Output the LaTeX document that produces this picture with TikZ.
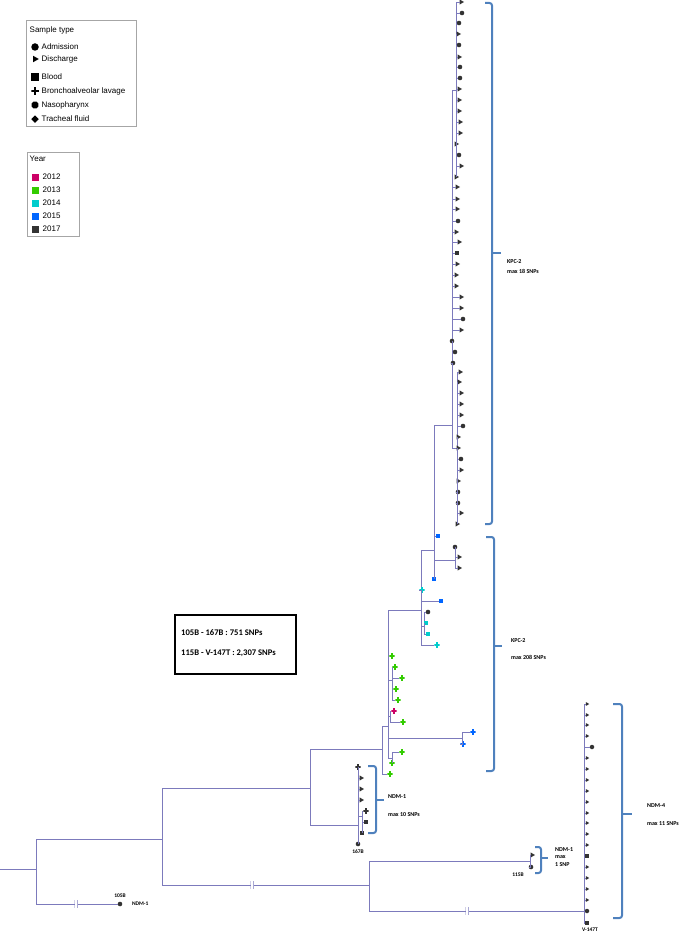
\documentclass[tikz,border=0pt]{standalone}
\usepackage{fontspec}
\setmainfont{Liberation Sans}
\newfontfamily\calibfont{Carlito}
\usetikzlibrary{
  shapes.geometric,
  positioning,
  calc
}
\definecolor{TreeBlue}{HTML}{7C7ABC}
\definecolor{BraceBlue}{HTML}{4F81BD}
\definecolor{MarkGrey}{HTML}{333333}
\definecolor{LegGrey}{HTML}{A6A6A6}
\definecolor{YrMagenta}{HTML}{CC0066}
\definecolor{YrGreen}{HTML}{33CC00}
\definecolor{YrCyan}{HTML}{00CCCC}
\definecolor{YrBlue}{HTML}{0066FF}
\definecolor{YrDark}{HTML}{333333}
\tikzset{
  % Tree branch
  branch/.style={draw=TreeBlue, line width=0.7pt},
  % Marker colour (set before the marker style)
  mkcol/.store in=\mkcolour, mkcol=MarkGrey,
  % Leaf markers (one per sample type)
  mk/.style={inner sep=0pt, outer sep=0pt, draw=none, fill=\mkcolour},
  dotm/.style={mk, circle, minimum size=4.6pt},
  trim/.style={mk, regular polygon, regular polygon sides=3, shape border rotate=-90, minimum size=6pt},
  sqm/.style={mk, rectangle, minimum size=4.6pt},
  plusm/.style={
    rectangle, inner sep=0pt, outer sep=0pt, draw=none, minimum size=5.2pt,
    path picture={\draw[line width=1.6pt, draw=\mkcolour]
      (path picture bounding box.north) -- (path picture bounding box.south)
      (path picture bounding box.west) -- (path picture bounding box.east);}
  },
  nasm/.style={mk, regular polygon, regular polygon sides=8, minimum size=6pt},
  diam/.style={mk, diamond, minimum size=6.5pt},
  % Broken branch mark
  brk/.style={
    rectangle, fill=white, inner sep=0pt, minimum width=3pt, minimum height=8pt,
    path picture={\draw[TreeBlue, line width=1.2pt]
      (path picture bounding box.north west) -- (path picture bounding box.south west)
      (path picture bounding box.north east) -- (path picture bounding box.south east);}
  },
  % Legend
  legbox/.style={draw=LegGrey, line width=0.6pt, fill=white, inner sep=0pt},
  legtxt/.style={font=\fontsize{8}{9}\selectfont, inner sep=0.5pt, anchor=west},
  % Tip and clade labels
  tiplbl/.style={font=\calibfont\bfseries\fontsize{5.5}{6.5}\selectfont, inner sep=0.5pt},
  cladelbl/.style={font=\calibfont\bfseries\fontsize{6}{7.5}\selectfont, inner sep=0pt, anchor=west, align=left},
  % Clade bracket
  brace/.style={draw=BraceBlue, line width=2pt, rounded corners=2.5pt},
  % SNP distance box
  snpbox/.style={draw=black, line width=2.2pt, fill=white, inner sep=0pt},
  snptxt/.style={font=\calibfont\bfseries\fontsize{8.6}{10}\selectfont, inner sep=0pt, anchor=west}
}

\begin{document}
\begin{tikzpicture}[x=1pt, y=-1pt]
  \useasboundingbox (0,0) rectangle (685,934);

  % Sample type legend
  \node[legbox, anchor=north west, minimum width=110pt, minimum height=106pt] (stbox) at (26,20) {};
  \node[legtxt] (sttitle) at (29,30) {Sample type};
  \foreach \y/\m/\t [count=\i] in {47/dotm/Admission, 59/trim/Discharge, 77/sqm/Blood,
      91/plusm/Bronchoalveolar lavage, 105/nasm/Nasopharynx, 119/diam/Tracheal fluid}
  {
    \node[mkcol=black, \m, minimum size=7.5pt] (st\i) at (35,\y) {};
    \node[legtxt] (stt\i) at (41,\y) {\t};
  }

  % Year legend
  \node[legbox, anchor=north west, minimum width=52pt, minimum height=84pt] (yrbox) at (27,152) {};
  \node[legtxt] (yrtitle) at (29,159) {Year};
  \foreach \y/\c/\t [count=\i] in {177/YrMagenta/2012, 190/YrGreen/2013, 203/YrCyan/2014,
      216/YrBlue/2015, 229/YrDark/2017}
  {
    \node[mkcol=\c, sqm, minimum size=7pt] (yr\i) at (35,\y) {};
    \node[legtxt] (yrt\i) at (42,\y) {\t};
  }

  % SNP distances
  \node[snpbox, anchor=north west, minimum width=121pt, minimum height=59pt] (snp) at (174,614) {};
  \node[snptxt] (snp1) at (181,633) {105B - 167B : 751 SNPs};
  \node[snptxt] (snp2) at (181,653) {115B - V-147T : 2,307 SNPs};

  % Internal nodes of the tree
  \coordinate (root) at (0,869);
  \coordinate (n0)  at (36,869);
  \coordinate (n1)  at (162,839);
  \coordinate (n2)  at (310,788);
  \coordinate (n3)  at (369,885);
  \coordinate (n4)  at (530,861);
  \coordinate (n5)  at (584,911);
  \coordinate (n6)  at (382,749);
  \coordinate (n7)  at (358,825);
  \coordinate (n8)  at (388,726);
  \coordinate (n9)  at (421,610);
  \coordinate (n10) at (392,680);
  \coordinate (n11) at (390,716);
  \coordinate (n12) at (462,738);
  \coordinate (n13) at (392,758);
  \coordinate (n14) at (434,550);
  \coordinate (n15) at (424,626);
  \coordinate (n16) at (452,425);
  \coordinate (n17) at (455,560);
  \coordinate (n18) at (456,90);
  \coordinate (n19) at (457,448);
  \coordinate (n20) at (362,816);

  % Backbone
  \node[dotm] (t105) at (120,904) {};
  \draw[branch] (root) -- (n0);
  \draw[branch] (n0) |- (n1);
  \draw[branch] (n0) |- (t105);
  \draw[branch] (n1) |- (n2);
  \draw[branch] (n1) |- (n3);
  \draw[branch] (n2) |- (n6);
  \draw[branch] (n2) |- (n7);
  \draw[branch] (n3) |- (n4);
  \draw[branch] (n3) |- (n5);
  \draw[branch] (n6) |- (n8);
  \draw[branch] (n8) |- (n9);
  \draw[branch] (n8) |- (n10);
  \draw[branch] (n8) |- (n11);
  \draw[branch] (n8) |- (n12);
  \draw[branch] (n8) |- (n13);
  \draw[branch] (n9) |- (n14);
  \draw[branch] (n9) |- (n15);
  \draw[branch] (n14) |- (n16);
  \draw[branch] (n14) |- (n17);
  \draw[branch] (n16) |- (n18);
  \draw[branch] (n16) |- (n19);
  \draw[branch] (n7) |- (n20);

  % Broken branches
  \node[brk] (bk1) at (76,904) {};
  \node[brk] (bk2) at (252,885) {};
  \node[brk] (bk3) at (467,911) {};

  % KPC-2, max 18 SNPs
  \foreach \x/\y/\m [count=\i] in {461/2/trim, 462/13/dotm, 459/23/dotm, 458/34/trim, 459/45/dotm,
      459/57/trim, 460/67/dotm, 460/78/dotm, 459/89/trim, 459/100/trim, 459/111/trim, 460/122/trim,
      460/133/trim, 456/144/trim, 459/155/dotm, 461/166/trim, 456/177/trim}
  {
    \node[\m] (ku\i) at (\x,\y) {};
    \draw[branch] (n18) |- (ku\i);
  }
  \foreach \x/\y/\m [count=\i] in {457/187/trim, 457/199/trim, 457/209/trim, 458/221/dotm, 456/232/trim,
      459/242/trim, 457/253/sqm, 457/264/trim, 456/275/trim, 456/286/trim, 461/297/trim, 461/308/trim,
      463/319/dotm, 461/330/trim, 452/341/dotm, 455/352/dotm, 453/363/dotm}
  {
    \node[\m] (km\i) at (\x,\y) {};
    \draw[branch] (n16) |- (km\i);
  }
  \foreach \x/\y/\m [count=\i] in {460/372/trim, 459/382/trim, 461/393/trim, 461/404/trim, 461/415/trim,
      463/426/dotm, 458/437/trim, 458/448/trim, 461/459/dotm, 461/470/trim, 458/481/trim, 458/492/dotm,
      458/503/dotm, 461/513/trim, 457/524/trim}
  {
    \node[\m] (kl\i) at (\x,\y) {};
    \draw[branch] (n19) |- (kl\i);
  }

  % KPC-2, max 208 SNPs
  \foreach \p/\x/\y/\m/\c [count=\i] in {n17/455/547/dotm/MarkGrey, n17/459/557/trim/MarkGrey,
      n17/459/568/trim/MarkGrey, n14/438/536/sqm/YrBlue, n14/434/579/sqm/YrBlue,
      n9/422/590/plusm/YrCyan, n9/441/601/sqm/YrBlue, n9/437/645/plusm/YrCyan,
      n15/428/612/dotm/MarkGrey, n15/426/623/sqm/YrCyan, n15/428/634/sqm/YrCyan,
      n8/392/656/plusm/YrGreen, n10/395/667/plusm/YrGreen, n10/402/678/plusm/YrGreen,
      n10/396/689/plusm/YrGreen, n10/398/700/plusm/YrGreen, n11/394/711/plusm/YrMagenta,
      n11/403/722/plusm/YrGreen, n12/473/732/plusm/YrBlue, n12/463/744/plusm/YrBlue,
      n13/402/752/plusm/YrGreen, n13/392/763/plusm/YrGreen, n6/390/774/plusm/YrGreen}
  {
    \node[mkcol=\c, \m] (kb\i) at (\x,\y) {};
    \draw[branch] (\p) |- (kb\i);
  }

  % NDM-1, max 10 SNPs
  \foreach \p/\x/\y/\m [count=\i] in {n7/358/767/plusm, n7/361/778/trim, n7/361/789/trim,
      n7/361/800/trim, n20/366/811/plusm, n20/366/822/sqm, n20/362/833/sqm, n7/358/844/dotm}
  {
    \node[\m] (nb\i) at (\x,\y) {};
    \draw[branch] (\p) |- (nb\i);
  }

  % NDM-1, max 1 SNP
  \node[trim] (na1) at (532,855) {};
  \node[dotm] (na2) at (531,867) {};
  \draw[branch] (n4) |- (na1);
  \draw[branch] (n4) |- (na2);

  % NDM-4, max 11 SNPs
  \foreach \x/\y/\m [count=\i] in {587/704/trim, 587/715/trim, 587/725/trim, 587/736/trim, 592/747/dotm,
      587/758/trim, 587/769/trim, 587/780/trim, 587/791/trim, 587/802/trim, 587/813/trim, 587/823/trim,
      587/834/trim, 587/845/trim, 587/856/sqm, 587/867/trim, 587/878/trim, 587/889/trim, 587/900/trim,
      587/911/dotm, 587/923/sqm}
  {
    \node[\m, minimum size=4.5pt] (nd\i) at (\x,\y) {};
    \draw[branch] (n5) |- (nd\i);
  }

  % Tip labels
  \node[tiplbl, above=3pt of t105]  (l105)  {105B};
  \node[tiplbl, right=9pt of t105]  (l105g) {NDM-1};
  \node[tiplbl, below=2.5pt of nb8] (l167)  {167B};
  \node[tiplbl] (l115)  at (518,875) {115B};
  \node[tiplbl] (l147)  at (590,930) {V-147T};

  % Clade brackets
  \draw[brace] (485,3) -- (492,3) -- (492,524) -- (485,524);
  \draw[brace] (492,253) -- (501,253);
  \draw[brace] (486,537) -- (494,537) -- (494,771) -- (486,771);
  \draw[brace] (494,646) -- (502,646);
  \draw[brace] (368,766) -- (376,766) -- (376,833) -- (368,833);
  \draw[brace] (376,800) -- (384,800);
  \draw[brace] (535,847) -- (541,847) -- (541,873) -- (535,873);
  \draw[brace] (541,858) -- (548,858);
  \draw[brace] (613,704) -- (622,704) -- (622,918) -- (613,918);
  \draw[brace] (622,814) -- (632,814);

  % Clade labels
  \node[cladelbl] (ca1) at (507,262) {KPC-2};
  \node[cladelbl] (ca2) at (507,271) {max 18 SNPs};
  \node[cladelbl] (cb1) at (511,641) {KPC-2};
  \node[cladelbl] (cb2) at (511,657) {max 208 SNPs};
  \node[cladelbl] (cc1) at (388,797) {NDM-1};
  \node[cladelbl] (cc2) at (388,815) {max 10 SNPs};
  \node[cladelbl, font=\calibfont\bfseries\fontsize{6}{7.6}\selectfont] (cd1) at (555,857) {NDM-1\\max\\1 SNP};
  \node[cladelbl] (ce1) at (647,806) {NDM-4};
  \node[cladelbl] (ce2) at (647,824) {max 11 SNPs};

\end{tikzpicture}
\end{document}
